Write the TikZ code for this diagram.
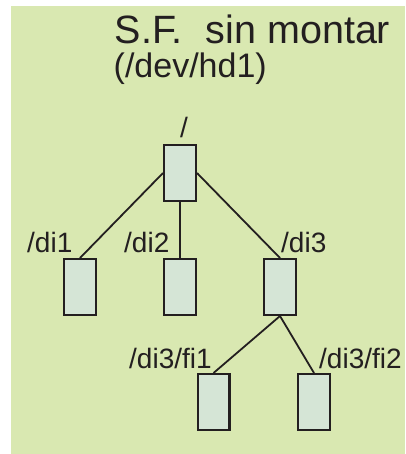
\documentclass[tikz,border=0pt]{standalone}
\usepackage{fontspec}
\setmainfont{Liberation Sans}
\definecolor{bggreen}{HTML}{D9E8B1}
\definecolor{boxfill}{HTML}{D5E5D6}
\definecolor{ink}{HTML}{231F20}
\begin{document}
\begin{tikzpicture}[x=1pt,y=-1pt,
  dirbox/.style={draw=ink, fill=boxfill, line width=2.4pt, rectangle, minimum width=31.6pt, minimum height=55.6pt, inner sep=0pt},
  lbl/.style={anchor=base west, inner sep=0pt, text=ink, font=\fontsize{28}{30}\selectfont},
  conn/.style={draw=ink, line width=1.8pt}]
\useasboundingbox (0,0) rectangle (405,454);
\fill[bggreen] (11,6) rectangle (405,454);
\node[lbl, font=\fontsize{39.5}{41}\selectfont] (title) at (114.5,44) {S.F.\hspace{23pt}sin montar};
\node[lbl, font=\fontsize{34}{36}\selectfont] (dev) at (113.5,78) {(/dev/hd1)};
\node[dirbox] (root) at (180,173) {};
\node[dirbox] (di1) at (80,287) {};
\node[dirbox] (di2) at (180,287) {};
\node[dirbox] (di3) at (280,287) {};
\node[dirbox] (fi1) at (213.5,402) {};
\node[dirbox] (fi2) at (314,402) {};
\node[lbl] (lroot) at (180,138) {/};
\node[lbl] (l1) at (27,252) {/di1};
\node[lbl] (l2) at (124,252) {/di2};
\node[lbl] (l3) at (281,252) {/di3};
\node[lbl] (l4) at (129,368) {/di3/fi1};
\node[lbl] (l5) at (319,368) {/di3/fi2};
\draw[conn] (root.west) -- (di1.north);
\draw[conn] (root.south) -- (di2.north);
\draw[conn] (root.east) -- (di3.north);
\draw[conn] (di3.south) -- (fi1.north);
\draw[conn] (di3.south) -- (fi2.north);
\end{tikzpicture}
\end{document}
